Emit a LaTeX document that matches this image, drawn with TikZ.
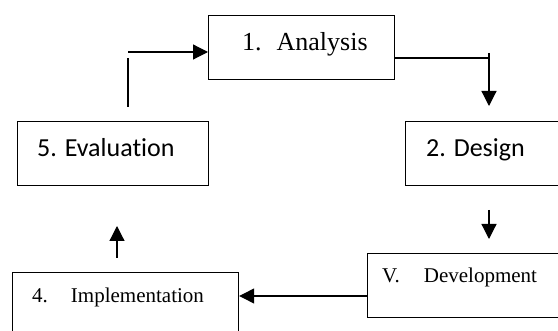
\documentclass[tikz,border=0pt]{standalone}
\usepackage{fontspec}
\setmainfont{Liberation Serif}
\newfontfamily\calfont[Ligatures=NoCommon]{Carlito}
\usetikzlibrary{arrows.meta}

\tikzset{
  stage/.style={draw,line width=1.2pt,inner sep=0pt,anchor=north west,
    minimum width=191pt,minimum height=64pt},
  txt/.style={anchor=base west,inner sep=0pt},
  flow/.style={line width=1.2pt},
  tip/.style={flow,-{Triangle[length=15pt,width=15pt]}}
}

\begin{document}
\begin{tikzpicture}[x=1pt,y=-1pt]
  \useasboundingbox (0,0) rectangle (558,331);
  \clip (0,0) rectangle (558,331);

  % boxes
  \node [stage,minimum width=186pt] (ana) at (208,15) {};
  \node [stage] (des) at (405,121) {};
  \node [stage] (dev) at (367,253) {};
  \node [stage,minimum width=226pt] (imp) at (12,272) {};
  \node [stage] (eva) at (17,121) {};

  % texts
  \node [txt,font=\fontsize{26}{30}\selectfont] (anaT) at (242,51) {1.\hspace{15pt}Analysis};
  \node [txt,font=\calfont\fontsize{26}{30}\selectfont] (desT) at (426,157) {2. Design};
  \node [txt,font=\fontsize{21}{25}\selectfont] (devT) at (382,283) {V.\hspace{24pt}Development};
  \node [txt,font=\fontsize{21}{25}\selectfont] (impT) at (32,303) {4.\hspace{23pt}Implementation};
  \node [txt,font=\calfont\fontsize{26}{30}\selectfont] (evaT) at (37,157) {5. Evaluation};

  % connectors
  \coordinate (turnA) at (489,58);
  \coordinate (tickA) at (489,53);
  \coordinate (endA) at (489,106);
  \draw [flow] (ana.east |- turnA) -- (turnA);
  \draw [tip] (tickA) -- (endA);

  \coordinate (startB) at (489,210);
  \coordinate (endB) at (489,239);
  \draw [tip] (startB) -- (endB);

  \coordinate (lvlC) at (0,296);
  \draw [tip] (dev.west |- lvlC) -- (imp.east |- lvlC);

  \coordinate (startD) at (117,258);
  \coordinate (endD) at (117,226);
  \draw [tip] (startD) -- (endD);

  \coordinate (lowE) at (128,107);
  \coordinate (highE) at (128,58);
  \coordinate (inE) at (128,52);
  \draw [flow] (lowE) -- (highE);
  \draw [tip] (inE) -- (inE -| ana.west);
\end{tikzpicture}
\end{document}
